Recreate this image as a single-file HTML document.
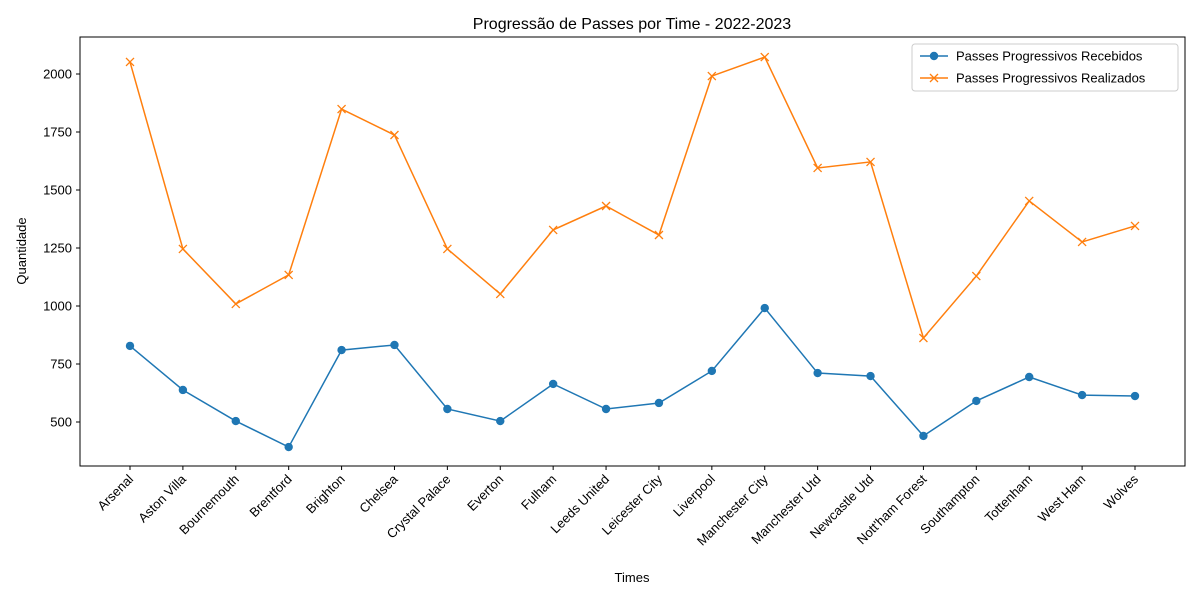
<!DOCTYPE html>
<html><head><meta charset="utf-8"><style>
body{margin:0;background:#fff;}
svg{display:block;font-family:"Liberation Sans","DejaVu Sans",sans-serif;}
</style></head><body>
<svg id="chart" width="1200" height="600"></svg>
<script>
const teams=["Arsenal","Aston Villa","Bournemouth","Brentford","Brighton","Chelsea","Crystal Palace","Everton","Fulham","Leeds United","Leicester City","Liverpool","Manchester City","Manchester Utd","Newcastle Utd","Nott'ham Forest","Southampton","Tottenham","West Ham","Wolves"];
const recebidos=[828,638,504,392,810,832,556,504,664,556,582,720,991,711,698,440,591,694,616,612];
const realizados=[2052,1246,1009,1134,1849,1737,1246,1052,1328,1431,1306,1991,2073,1595,1621,862,1129,1453,1276,1345];
const yTicks=[500,750,1000,1250,1500,1750,2000];

const NS="http://www.w3.org/2000/svg";
const svg=document.getElementById('chart');
const L=80,R=1185,T=37,B=466;
function x(i){return 130+i*(1135-130)/(teams.length-1);}
function y(v){return 422-(v-500)*0.232;}
function mk(tag,attrs,parent){const e=document.createElementNS(NS,tag);for(const k in attrs)e.setAttribute(k,attrs[k]);(parent||svg).appendChild(e);return e;}

const title=mk('text',{x:632,y:29,'text-anchor':'middle','font-size':16,fill:'#000'});


title.textContent='Progressão de Passes por Time - 2022-2023';

yTicks.forEach(v=>{
  const g=mk('g',{});
  
  
  mk('line',{x1:L-4,x2:L,y1:y(v),y2:y(v),stroke:'#000'},g);
  const t=mk('text',{x:L-8,y:y(v)+4.5,'text-anchor':'end','font-size':13},g);
  t.textContent=v;
});
teams.forEach((n,i)=>{
  const g=mk('g',{});
  
  
  mk('line',{x1:x(i),x2:x(i),y1:B,y2:B+4,stroke:'#000'},g);
  const t=mk('text',{x:x(i)+4,y:B+14,'text-anchor':'end','font-size':13,transform:`rotate(-45 ${x(i)+4} ${B+14})`},g);
  t.textContent=n;
});

function series(vals,color,marker,name){
  const g=mk('g',{});
  
  
  mk('polyline',{points:vals.map((v,i)=>x(i)+','+y(v)).join(' '),fill:'none',stroke:color,'stroke-width':1.5},g);
  vals.forEach((v,i)=>{
    let m;
    if(marker==='o') m=mk('circle',{cx:x(i),cy:y(v),r:4.2,fill:color},g);
    else m=mk('path',{d:`M${x(i)-4},${y(v)-4}L${x(i)+4},${y(v)+4}M${x(i)-4},${y(v)+4}L${x(i)+4},${y(v)-4}`,stroke:color,'stroke-width':1.3},g);
    
    
  });
}
series(recebidos,'#1f77b4','o','series-recebidos');
series(realizados,'#ff7f0e','x','series-realizados');

const frame=mk('rect',{x:L,y:T,width:R-L,height:B-T,fill:'none',stroke:'#000','stroke-width':1});



const yl=mk('text',{x:26,y:251,'text-anchor':'middle','font-size':13,transform:'rotate(-90 26 251)'});


yl.textContent='Quantidade';
const xl=mk('text',{x:632,y:582,'text-anchor':'middle','font-size':13});


xl.textContent='Times';

const lg=mk('g',{});


mk('rect',{x:912,y:44,width:266,height:47,rx:3,fill:'#fff',stroke:'#ccc'},lg);
[['Passes Progressivos Recebidos','#1f77b4','o'],['Passes Progressivos Realizados','#ff7f0e','x']].forEach((e,k)=>{
  const g=mk('g',{},lg);
  
  
  const yy=56+k*22;
  mk('line',{x1:920,x2:948,y1:yy,y2:yy,stroke:e[1],'stroke-width':1.5},g);
  if(e[2]==='o') mk('circle',{cx:934,cy:yy,r:4.2,fill:e[1]},g);
  else mk('path',{d:`M930,${yy-4}L938,${yy+4}M930,${yy+4}L938,${yy-4}`,stroke:e[1],'stroke-width':1.3},g);
  const t=mk('text',{x:956,y:yy+4.5,'font-size':13},g);
  t.textContent=e[0];
});
</script>
</body></html>
